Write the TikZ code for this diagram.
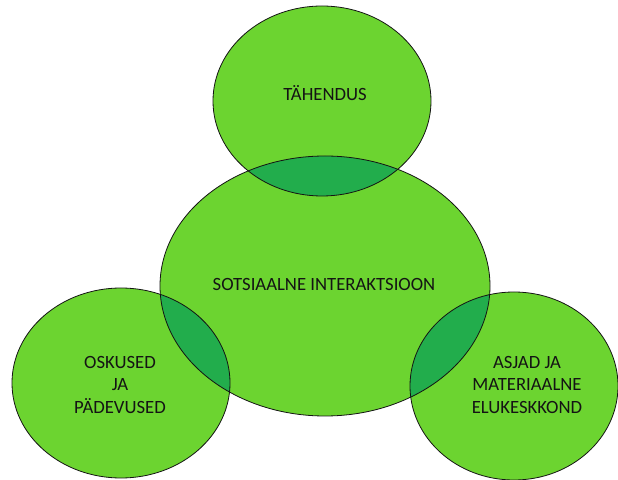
\documentclass[tikz,border=0pt]{standalone}
\usepackage{fontspec}
\setmainfont{Carlito}
\definecolor{lightg}{RGB}{108,212,48}
\definecolor{darkg}{RGB}{34,173,76}
\definecolor{ink}{RGB}{20,20,20}
\begin{document}
\begin{tikzpicture}[x=1pt,y=1pt,
  outline/.style={draw=ink,line width=0.8pt},
  label/.style={text=ink,font=\fontsize{18.7}{22.5}\selectfont,align=center,inner sep=0pt}]
\useasboundingbox (0,0) rectangle (618,479);
\def\Top{(322,378) ellipse [x radius=109, y radius=95]}
\def\Mid{(325,193) ellipse [x radius=165, y radius=130]}
\def\Lft{(121,96) ellipse [x radius=109, y radius=95]}
\def\Rgt{(514,93) ellipse [x radius=104, y radius=94]}
% fills
\fill[lightg] \Top;
\fill[lightg] \Mid;
\fill[lightg] \Lft;
\fill[lightg] \Rgt;
% overlaps
\begin{scope}\clip \Mid; \fill[darkg] \Top; \end{scope}
\begin{scope}\clip \Mid; \fill[darkg] \Lft; \end{scope}
\begin{scope}\clip \Mid; \fill[darkg] \Rgt; \end{scope}
% outlines
\draw[outline] \Top;
\draw[outline] \Mid;
\draw[outline] \Lft;
\draw[outline] \Rgt;
% texts
\node[label] (tah) at (325,386) {TÄHENDUS};
\node[label] (sots) at (324,195) {SOTSIAALNE INTERAKTSIOON};
\node[label] (osk) at (120,94) {OSKUSED\\JA\\PÄDEVUSED};
\node[label] (asj) at (527,94) {ASJAD JA\hspace{0.7em}\\MATERIAALNE\\ELUKESKKOND};
\end{tikzpicture}
\end{document}
